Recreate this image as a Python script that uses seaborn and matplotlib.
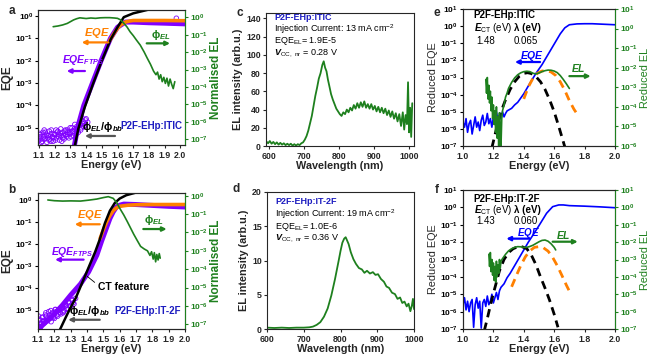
import numpy as np
import seaborn as sns
import matplotlib
matplotlib.use("Agg")
from matplotlib import pyplot as plt
from matplotlib import ticker

# ---------------- panel a : P2F-EHp:ITIC, EQE / EL (log10 values) -------------
a_ftps_pts_E = [1.100, 1.110, 1.120, 1.130, 1.140, 1.150, 1.160, 1.170, 1.180, 1.190, 1.200, 1.210,
                1.220, 1.230, 1.240, 1.250, 1.260, 1.270, 1.280, 1.290, 1.300, 1.310, 1.320, 1.330,
                1.340, 1.350, 1.360, 1.370, 1.380, 1.390, 1.400, 1.410,
                1.105, 1.115, 1.125, 1.135, 1.145, 1.155, 1.165, 1.175, 1.185, 1.195, 1.205, 1.215,
                1.225, 1.235, 1.245, 1.255, 1.265, 1.275, 1.285, 1.295, 1.305, 1.315, 1.325, 1.335,
                1.345, 1.355, 1.365, 1.375, 1.385, 1.395,
                1.102, 1.118, 1.133, 1.148, 1.163, 1.178, 1.193, 1.208, 1.223, 1.238, 1.253, 1.268,
                1.283, 1.298, 1.313, 1.328, 1.343, 1.358, 1.373, 1.388, 1.975]
a_ftps_pts_log = [-5.55, -5.3, -5.6, -5.4, -5.2, -5.65, -5.35, -5.5, -5.25, -5.6, -5.3, -5.45,
                  -5.15, -5.55, -5.35, -5.2, -5.5, -5.3, -5.1, -5.45, -5.25, -5.0, -5.35, -5.1,
                  -4.95, -5.2, -4.85, -5.0, -4.7, -4.9, -4.6, -4.75,
                  -5.4, -5.65, -5.2, -5.5, -5.35, -5.45, -5.15, -5.6, -5.4, -5.3, -5.55, -5.2,
                  -5.4, -5.25, -5.6, -5.35, -5.15, -5.4, -5.3, -5.2, -5.4, -5.15, -5.05, -5.3,
                  -5.05, -4.9, -5.1, -4.8, -4.95, -4.65,
                  -5.25, -5.5, -5.1, -5.3, -5.55, -5.1, -5.45, -5.1, -5.3, -5.05, -5.45, -5.1,
                  -5.2, -5.0, -5.15, -4.85, -5.1, -4.75, -4.55, -4.8, -0.1]
a_ftps_E = [1.325, 1.345, 1.385, 1.44, 1.495, 1.555, 1.60, 1.65, 1.70, 1.80, 1.90, 2.03]
a_ftps_log = [-5.8, -5.0, -4.0, -3.0, -2.0, -1.0, -0.5, -0.27, -0.27, -0.3, -0.32, -0.35]
a_eqe_E = [1.55, 1.58, 1.60, 1.62, 1.65, 1.68, 1.70, 1.80, 1.90, 2.03]
a_eqe_log = [-1.1, -0.75, -0.55, -0.4, -0.27, -0.22, -0.2, -0.2, -0.2, -0.21]
a_bb_E = [1.328, 1.35, 1.39, 1.443, 1.497, 1.556, 1.60, 1.64, 1.70, 1.77, 1.85]
a_bb_log = [-5.8, -5.05, -4.1, -3.05, -2.05, -1.05, -0.5, -0.05, 0.12, 0.24, 0.38]
a_el_E = [1.19, 1.22, 1.25, 1.28, 1.30, 1.32, 1.34, 1.36, 1.38, 1.40, 1.43, 1.46, 1.49, 1.52,
          1.55, 1.58, 1.60, 1.62, 1.64, 1.66, 1.68, 1.70, 1.72, 1.745, 1.77, 1.79, 1.81, 1.83,
          1.845, 1.855, 1.865, 1.875, 1.885, 1.895, 1.905, 1.915, 1.925, 1.935, 1.945, 1.955, 1.965]
a_el_log = [-0.54, -0.5, -0.44, -0.35, -0.25, -0.15, -0.08, -0.03, -0.05, -0.07, -0.04, -0.06,
            -0.03, -0.02, -0.02, -0.04, -0.06, -0.15, -0.34, -0.55, -0.83, -1.05, -1.3, -1.6,
            -2.0, -2.36, -2.7, -3.1, -3.3, -3.15, -3.55, -3.3, -3.7, -3.45, -3.8, -3.5, -3.95,
            -3.55, -3.85, -4.1, -3.7]

# ---------------- panel b : P2F-EHp:IT-2F -------------
b_ftps_pts_E = [1.100, 1.110, 1.120, 1.130, 1.140, 1.150, 1.160, 1.170, 1.180, 1.190, 1.200, 1.210,
                1.220, 1.230, 1.240, 1.250, 1.260, 1.270, 1.280, 1.290, 1.300, 1.310, 1.320, 1.330,
                1.105, 1.115, 1.125, 1.135, 1.145, 1.155, 1.165, 1.175, 1.185, 1.195, 1.205, 1.215,
                1.225, 1.235, 1.245, 1.255, 1.265, 1.275, 1.285, 1.295, 1.305, 1.315,
                1.103, 1.118, 1.133, 1.148, 1.163, 1.178, 1.193, 1.208, 1.223, 1.238, 1.253, 1.268]
b_ftps_pts_log = [-5.7, -5.4, -5.6, -5.3, -5.55, -5.25, -5.45, -5.2, -5.5, -5.1, -5.35, -5.05,
                  -5.25, -4.95, -5.15, -4.85, -5.0, -4.75, -4.95, -4.65, -4.8, -4.55, -4.7, -4.45,
                  -5.45, -5.75, -5.3, -5.5, -5.2, -5.45, -5.05, -5.35, -5.15, -5.3, -4.95, -5.2,
                  -5.0, -5.1, -4.85, -5.05, -4.7, -4.9, -4.6, -4.8, -4.5, -4.65,
                  -5.25, -5.55, -5.45, -5.1, -5.3, -5.0, -5.25, -4.95, -5.15, -4.9, -5.1, -4.8]
b_ftps_E = [1.10, 1.15, 1.20, 1.25, 1.30, 1.36, 1.41, 1.46, 1.49, 1.52, 1.54, 1.56, 1.58, 1.60,
            1.625, 1.70, 1.80, 1.90, 2.00]
b_ftps_log = [-5.85, -5.5, -5.15, -4.75, -4.3, -3.8, -3.25, -2.5, -1.85, -1.25, -0.85, -0.55,
              -0.33, -0.25, -0.2, -0.22, -0.26, -0.3, -0.33]
b_eqe_E = [1.48, 1.50, 1.52, 1.54, 1.56, 1.58, 1.60, 1.65, 1.70, 1.80, 1.90, 2.00]
b_eqe_log = [-1.75, -1.35, -1.0, -0.72, -0.5, -0.37, -0.3, -0.25, -0.23, -0.22, -0.22, -0.22]
b_bb_E = [1.234, 1.27, 1.30, 1.33, 1.37, 1.41, 1.45, 1.48, 1.51, 1.54, 1.57, 1.60, 1.64, 1.70, 1.76]
b_bb_log = [-5.86, -5.3, -4.85, -4.45, -3.75, -3.05, -2.35, -1.75, -1.05, -0.5, -0.15, 0.05, 0.2,
            0.32, 0.42]
b_el_E = [1.16, 1.20, 1.25, 1.30, 1.36, 1.41, 1.46, 1.50, 1.53, 1.56, 1.58, 1.60, 1.625, 1.646,
          1.666, 1.686, 1.708, 1.728, 1.75, 1.77, 1.785, 1.795, 1.805, 1.812, 1.82, 1.827, 1.835,
          1.842, 1.848]
b_el_log = [-0.23, -0.27, -0.29, -0.28, -0.29, -0.24, -0.18, -0.1, -0.05, -0.14, -0.35, -0.68,
            -1.05, -1.4, -1.75, -2.1, -2.45, -2.76, -2.9, -3.0, -3.25, -3.05, -3.45, -3.1, -3.6,
            -3.2, -3.5, -3.15, -3.4]

# ---------------- panel c : EL spectrum P2F-EHp:ITIC -------------
c_wl = [592, 597, 602, 607, 612, 617, 622, 627, 632, 637, 642, 647, 652, 657, 662, 667, 672, 677,
        682, 687, 692, 697, 702, 707, 712, 717, 722, 727, 732, 737, 742, 747, 752, 756, 760, 764,
        768, 772, 777, 782, 787, 792, 797, 802, 807, 812, 817, 822, 827, 832, 837, 842, 847, 852,
        857, 862, 867, 872, 877, 882, 887, 892, 897, 902, 907, 912, 917, 922, 927, 932, 937, 942,
        947, 952, 957, 962, 967, 972, 977, 982, 986, 990, 994, 997, 1000, 1003, 1006, 1009]
c_el = [5, 3, 5.5, 2.5, 4.5, 2, 4, 1.5, 3.5, 1.5, 3, 1, 2.5, 1, 2.5, 0.5, 2, 0.5, 2, 1, 3, 4,
        7, 11, 17, 25, 33, 44, 55, 64, 74, 80, 89, 93, 86, 82, 73, 66, 57, 51, 46, 41, 38, 35,
        33, 37, 35, 40, 37, 42, 39, 45, 41, 47, 42, 48, 43, 49, 42, 46, 41, 46, 40, 44, 38, 43,
        37, 42, 36, 41, 34, 39, 32, 38, 30, 36, 27, 35, 22, 37, 18, 34, 24, 70, 15, 42, 10, 47]

# ---------------- panel d : EL spectrum P2F-EHp:IT-2F -------------
d_wl = [600, 620, 640, 660, 680, 700, 715, 725, 735, 745, 755, 765, 775, 785, 795, 800, 805, 810,
        814, 818, 822, 828, 835, 842, 850, 858, 865, 872, 880, 888, 895, 902, 910, 918, 925, 932,
        940, 948, 955, 962, 968, 974, 980, 985, 990, 994, 997, 1000]
d_el = [0.2, 0.15, 0.2, 0.15, 0.2, 0.2, 0.25, 0.35, 0.6, 1.0, 1.8, 3.0, 4.9, 7.3, 10.0, 11.4,
        12.6, 13.2, 13.4, 12.9, 12.4, 11.2, 10.2, 9.5, 8.9, 8.7, 8.2, 8.5, 8.1, 8.3, 7.9, 8.0,
        7.3, 6.9, 6.2, 6.0, 5.3, 5.1, 4.4, 4.6, 3.8, 4.0, 3.3, 3.7, 2.6, 3.4, 4.4, 2.9]

# ---------------- panel e : reduced EQE / EL, P2F-EHp:ITIC -------------
e_eqe_E = [1.00, 1.01, 1.02, 1.03, 1.04, 1.05, 1.06, 1.07, 1.08, 1.09, 1.10, 1.11, 1.12, 1.13,
           1.14, 1.15, 1.16, 1.17, 1.18, 1.19, 1.20, 1.21, 1.22, 1.23, 1.24, 1.25, 1.26, 1.27,
           1.28, 1.29, 1.30, 1.32, 1.34, 1.36, 1.38, 1.40, 1.44, 1.48, 1.52, 1.56, 1.60, 1.64,
           1.67, 1.70, 1.75, 1.80, 1.85, 1.90, 1.95, 2.00]
e_eqe_log = [-5.6, -5.9, -5.4, -6.2, -5.7, -5.5, -6.3, -5.8, -5.3, -5.9, -5.6, -6.1, -5.5, -5.2,
             -5.8, -5.6, -5.1, -5.7, -5.4, -5.9, -5.3, -5.6, -5.0, -5.5, -5.2, -5.4, -5.0, -5.3,
             -5.1, -4.95, -4.9, -4.8, -4.6, -4.45, -4.2, -3.95, -3.34, -2.76, -2.25, -1.65,
             -1.05, -0.45, -0.1, 0.08, 0.13, 0.14, 0.14, 0.12, 0.1, 0.08]
e_el_fit_E = [1.19, 1.22, 1.25, 1.28, 1.31, 1.34, 1.37, 1.40, 1.425, 1.45, 1.48, 1.51, 1.54,
              1.57, 1.60, 1.63, 1.66, 1.675]
e_el_fit_log = [-7.1, -6.0, -5.0, -4.3, -3.7, -3.25, -2.93, -2.76, -2.72, -2.77, -2.95, -3.25,
                -3.7, -4.3, -5.0, -5.85, -6.75, -7.2]
e_eqe_fit_E = [1.40, 1.43, 1.46, 1.49, 1.52, 1.55, 1.58, 1.61, 1.64, 1.67, 1.70, 1.73, 1.76]
e_eqe_fit_log = [-4.25, -3.55, -3.05, -2.75, -2.62, -2.6, -2.68, -2.88, -3.25, -3.75, -4.35,
                 -4.85, -5.25]
e_el_E = [1.150, 1.155, 1.160, 1.165, 1.170, 1.175, 1.180, 1.185, 1.190, 1.195, 1.200, 1.205,
          1.210, 1.215, 1.220, 1.225, 1.230, 1.235, 1.240, 1.245, 1.250, 1.255, 1.260, 1.270,
          1.280, 1.290, 1.300, 1.320, 1.340, 1.360, 1.380, 1.400, 1.420, 1.440, 1.460, 1.480,
          1.500, 1.520, 1.540, 1.560, 1.580, 1.600, 1.620, 1.640, 1.660, 1.680, 1.700]
e_el_log = [-2.6, -3.3, -2.5, -3.6, -2.9, -3.8, -3.2, -4.2, -3.5, -4.6, -3.9, -4.9, -4.2, -5.3,
            -4.0, -5.6, -4.5, -6.0, -4.3, -5.2, -6.0, -4.6, -4.2, -3.9, -3.5, -3.3, -3.05, -2.75,
            -2.52, -2.36, -2.26, -2.2, -2.18, -2.2, -2.28, -2.32, -2.27, -2.2, -2.15, -2.12,
            -2.13, -2.17, -2.25, -2.4, -2.6, -2.82, -3.06]

# ---------------- panel f : reduced EQE / EL, P2F-EHp:IT-2F -------------
f_eqe_E = [1.00, 1.01, 1.02, 1.03, 1.04, 1.05, 1.06, 1.07, 1.08, 1.09, 1.10, 1.11, 1.12, 1.13,
           1.14, 1.15, 1.16, 1.17, 1.18, 1.19, 1.20, 1.21, 1.22, 1.23, 1.24, 1.25, 1.27, 1.29,
           1.31, 1.33, 1.35, 1.37, 1.40, 1.43, 1.46, 1.50, 1.55, 1.59, 1.63, 1.66, 1.70, 1.80,
           1.90, 2.00]
f_eqe_log = [-5.6, -5.2, -5.9, -5.4, -6.0, -5.5, -5.3, -6.9, -5.6, -5.2, -5.8, -5.4, -6.95, -5.5,
             -5.3, -5.7, -5.1, -5.6, -5.4, -5.0, -5.5, -5.2, -4.9, -5.3, -4.8, -4.6, -4.4, -4.05,
             -3.8, -3.5, -3.2, -2.9, -2.45, -2.0, -1.6, -1.05, -0.34, 0.04, 0.14, 0.14, 0.1,
             0.07, 0.03, -0.02]
f_el_fit_E = [1.14, 1.16, 1.18, 1.20, 1.22, 1.24, 1.27, 1.30, 1.33, 1.36, 1.375, 1.39, 1.42, 1.45,
              1.48, 1.51, 1.54, 1.57, 1.60, 1.625]
f_el_fit_log = [-7.1, -6.4, -5.65, -4.95, -4.3, -3.65, -3.0, -2.6, -2.38, -2.27, -2.26, -2.27,
                -2.38, -2.75, -3.3, -4.0, -4.65, -5.35, -6.15, -6.9]
f_eqe_fit_E = [1.32, 1.35, 1.38, 1.41, 1.44, 1.47, 1.50, 1.53, 1.56, 1.59, 1.62, 1.65, 1.68, 1.71]
f_eqe_fit_log = [-4.57, -3.95, -3.35, -2.85, -2.5, -2.3, -2.26, -2.33, -2.52, -2.88, -3.35, -3.9,
                 -4.47, -5.0]
f_el_E = [1.170, 1.175, 1.180, 1.185, 1.190, 1.195, 1.200, 1.205, 1.210, 1.215, 1.220, 1.225,
          1.230, 1.235, 1.240, 1.245, 1.250, 1.260, 1.280, 1.300, 1.320, 1.340, 1.360, 1.380,
          1.400, 1.420, 1.440, 1.460, 1.480, 1.500, 1.520, 1.540, 1.560, 1.580, 1.600, 1.610]
f_el_log = [-2.7, -3.4, -2.6, -3.7, -3.0, -3.9, -3.2, -4.2, -3.4, -4.3, -3.1, -4.0, -3.3, -3.8,
            -3.0, -3.5, -3.1, -2.95, -2.7, -2.5, -2.38, -2.3, -2.26, -2.27, -2.3, -2.3, -2.25,
            -2.18, -2.08, -1.98, -1.9, -1.88, -1.95, -2.1, -2.3, -2.45]

PURPLE = "#8000ff"
ORANGE = "#ff8000"
GREEN = "#1e801e"
BLUE = "#0000ff"
NAVY = "#1c1cc0"

sns.set_style("ticks")
plt.rcParams["font.family"] = ["Liberation Sans", "DejaVu Sans"]
plt.rcParams["font.weight"] = "bold"
plt.rcParams["axes.labelweight"] = "bold"
plt.rcParams["mathtext.fontset"] = "custom"
plt.rcParams["mathtext.rm"] = "Liberation Sans"
plt.rcParams["mathtext.it"] = "Liberation Sans:italic"
plt.rcParams["mathtext.bf"] = "Liberation Sans:bold"
plt.rcParams["mathtext.default"] = "regular"
plt.rcParams["axes.linewidth"] = 0.8
plt.rcParams["xtick.major.size"] = 2.5
plt.rcParams["ytick.major.size"] = 2.5
plt.rcParams["xtick.major.pad"] = 1.5
plt.rcParams["ytick.major.pad"] = 1.2


def lin(values):
    return 10.0 ** np.asarray(values)


def log_fmt(v, pos):
    return r"$\mathbf{10^{%d}}$" % int(round(np.log10(v)))


def log_axis(ax, lo, hi, color="black"):
    ax.set_yscale("log")
    ax.set_ylim(10.0 ** lo, 10.0 ** hi)
    decades = range(int(np.ceil(lo - 1e-9)), int(np.floor(hi + 1e-9)) + 1)
    ax.yaxis.set_major_locator(ticker.FixedLocator([10.0 ** k for k in decades]))
    ax.yaxis.set_minor_locator(ticker.NullLocator())
    ax.yaxis.set_major_formatter(ticker.FuncFormatter(log_fmt))
    ax.tick_params(axis="y", colors=color, labelsize=6)


def line(ax, x, y, color, lw, **kw):
    sns.lineplot(x=x, y=y, ax=ax, color=color, lw=lw, estimator=None, sort=False, **kw)


def arrow(ax, start, end, color, lw=1.6):
    ax.annotate("", xy=end, xytext=start, xycoords="axes fraction", textcoords="axes fraction",
                arrowprops=dict(arrowstyle="-|>", color=color, lw=lw, mutation_scale=6,
                                shrinkA=0, shrinkB=0))


def label_text(ax, x, y, s, color="black", size=7.5, ha="center", **kw):
    ax.text(x, y, s, color=color, fontsize=size, ha=ha, va="center", transform=ax.transAxes, **kw)


fig = plt.figure(figsize=(6.5, 3.57), dpi=100)


def eqe_panel(rect, xlim, left_lim, right_lim, pts_E, pts_log, ftps_E, ftps_log, eqe_E, eqe_log,
              bb_E, bb_log, el_E, el_log):
    ax = fig.add_axes(rect)
    log_axis(ax, *left_lim)
    sns.scatterplot(x=pts_E, y=lin(pts_log), ax=ax, marker="o", s=11, facecolors="none",
                    edgecolor=PURPLE, linewidth=0.6, zorder=2)
    line(ax, ftps_E, lin(ftps_log), PURPLE, 3.6)
    line(ax, eqe_E, lin(eqe_log), ORANGE, 2.6)
    line(ax, bb_E, lin(bb_log), "black", 1.8)
    ax.set_xlim(*xlim)
    ax.set_xticks(np.round(np.arange(1.1, 2.01, 0.1), 1))
    ax.xaxis.set_major_formatter(ticker.FormatStrFormatter("%.1f"))
    ax.tick_params(axis="x", labelsize=6.3)
    ax.set_xlabel("Energy (eV)", fontsize=7.8, labelpad=0.5)
    ax.set_ylabel("EQE", fontsize=8.5, labelpad=1)
    ax2 = ax.twinx()
    line(ax2, el_E, lin(el_log), GREEN, 1.2)
    log_axis(ax2, *right_lim, color=GREEN)
    ax2.spines["right"].set_color(GREEN)
    ax2.set_ylabel("Normalised EL", fontsize=8.5, color=GREEN, labelpad=1)
    return ax


ax_a = eqe_panel([0.0589, 0.5938, 0.2257, 0.3782], (1.095, 2.03), (-5.77, 0.27), (-7.34, 0.42),
                 a_ftps_pts_E, a_ftps_pts_log, a_ftps_E, a_ftps_log, a_eqe_E, a_eqe_log,
                 a_bb_E, a_bb_log, a_el_E, a_el_log)
label_text(ax_a, 0.40, 0.83, r"$\mathit{EQE}$", ORANGE, 8)
arrow(ax_a, (0.477, 0.76), (0.296, 0.76), ORANGE)
label_text(ax_a, 0.165, 0.63, r"$\mathit{EQE_{FTPS}}$", PURPLE, 7.5, ha="left")
arrow(ax_a, (0.318, 0.548), (0.194, 0.548), PURPLE)
label_text(ax_a, 0.836, 0.815, r"$\phi_{\mathit{EL}}$", GREEN, 8)
arrow(ax_a, (0.739, 0.753), (0.898, 0.753), GREEN)
label_text(ax_a, 0.437, 0.136, r"$\phi_{\mathit{EL}}/\phi_{\mathit{bb}}$", "black", 8)
arrow(ax_a, (0.523, 0.067), (0.318, 0.067), "#555555")
label_text(ax_a, 0.768, 0.143, "P2F-EHp:ITIC", NAVY, 7)

ax_b = eqe_panel([0.0585, 0.0784, 0.2262, 0.381], (1.1, 2.0), (-5.83, 0.3), (-7.26, 0.15),
                 b_ftps_pts_E, b_ftps_pts_log, b_ftps_E, b_ftps_log, b_eqe_E, b_eqe_log,
                 b_bb_E, b_bb_log, b_el_E, b_el_log)
label_text(ax_b, 0.35, 0.84, r"$\mathit{EQE}$", ORANGE, 8)
arrow(ax_b, (0.42, 0.77), (0.25, 0.77), ORANGE)
label_text(ax_b, 0.085, 0.565, r"$\mathit{EQE_{FTPS}}$", PURPLE, 7.5, ha="left")
arrow(ax_b, (0.31, 0.51), (0.116, 0.51), PURPLE)
label_text(ax_b, 0.79, 0.80, r"$\phi_{\mathit{EL}}$", GREEN, 8)
arrow(ax_b, (0.716, 0.735), (0.875, 0.735), GREEN)
label_text(ax_b, 0.41, 0.31, "CT feature", "black", 7.5, ha="left")
ax_b.annotate("", xy=(0.32, 0.40), xytext=(0.40, 0.33), xycoords="axes fraction",
              textcoords="axes fraction", arrowprops=dict(arrowstyle="-", color="black", lw=0.6))
label_text(ax_b, 0.35, 0.134, r"$\phi_{\mathit{EL}}/\phi_{\mathit{bb}}$", "black", 8)
arrow(ax_b, (0.42, 0.068), (0.205, 0.068), "#555555")
label_text(ax_b, 0.745, 0.134, "P2F-EHp:IT-2F", NAVY, 7)


def spectrum_panel(rect, wl, el, xlim, ylim, yticks, lines):
    ax = fig.add_axes(rect)
    line(ax, wl, el, GREEN, 1.3)
    ax.set_xlim(*xlim)
    ax.set_ylim(*ylim)
    ax.set_xticks([600, 700, 800, 900, 1000] if xlim[0] <= 600 else [700, 800, 900, 1000])
    ax.set_yticks(yticks)
    ax.tick_params(labelsize=6.3)
    ax.set_xlabel("Wavelength (nm)", fontsize=7.8, labelpad=0.5)
    ax.set_ylabel("EL intensity (arb.u.)", fontsize=7.8, labelpad=2)
    for y, s, kw in lines:
        label_text(ax, 0.056, y, s, size=6.5, ha="left", **kw)
    return ax


spectrum_panel([0.4092, 0.591, 0.2277, 0.3725], c_wl, c_el, (591, 1014), (0, 146),
               range(0, 141, 20),
               [(0.963, "P2F-EHp:ITIC", dict(color=NAVY)),
                (0.877, r"Injection Current: 13 mA cm$^{-2}$", dict(fontweight="normal")),
                (0.786, r"EQE$_{EL}$= 1.9E-5", dict(fontweight="normal")),
                (0.697, r"$\mathit{V}_{OC,\ nr}$ = 0.28 V", dict(fontweight="normal"))])
spectrum_panel([0.4108, 0.0784, 0.2262, 0.3838], d_wl, d_el, (600, 1000), (0, 20),
               range(0, 21, 5),
               [(0.93, "P2F-EHp:IT-2F", dict(color=NAVY)),
                (0.84, r"Injection Current: 19 mA cm$^{-2}$", dict(fontweight="normal")),
                (0.745, r"EQE$_{EL}$= 1.0E-6", dict(fontweight="normal")),
                (0.66, r"$\mathit{V}_{OC,\ nr}$ = 0.36 V", dict(fontweight="normal"))])


def reduced_panel(rect, right_lo, eqe_E, eqe_log, el_fit_E, el_fit_log, eqe_fit_E, eqe_fit_log,
                  el_E, el_log, name, ect, lam, ys):
    ax = fig.add_axes(rect)
    log_axis(ax, -7, 1)
    line(ax, eqe_E, lin(eqe_log), BLUE, 1.2)
    line(ax, eqe_fit_E, lin(eqe_fit_log), ORANGE, 2.0, linestyle=(0, (3, 2)))
    line(ax, el_fit_E, lin(el_fit_log), "black", 2.0, linestyle=(0, (3, 2)))
    ax.set_xlim(1.0, 2.0)
    ax.set_xticks(np.round(np.arange(1.0, 2.01, 0.2), 1))
    ax.xaxis.set_major_formatter(ticker.FormatStrFormatter("%.1f"))
    ax.tick_params(axis="x", labelsize=6.3)
    ax.set_xlabel("Energy (eV)", fontsize=7.8, labelpad=0.5)
    ax.set_ylabel("Reduced EQE", fontsize=7.8, fontweight="normal", labelpad=1)
    ax2 = ax.twinx()
    line(ax2, el_E, lin(el_log), GREEN, 1.2)
    log_axis(ax2, right_lo, 1, color=GREEN)
    ax2.spines["right"].set_color(GREEN)
    ax2.set_ylabel("Reduced EL", fontsize=7.8, fontweight="normal", color=GREEN, labelpad=1)
    label_text(ax, 0.07, ys[0], name, size=7, ha="left")
    label_text(ax, 0.07, ys[1], r"$\mathit{E}_{CT}$ (eV)", size=7, ha="left",
               fontweight="normal")
    label_text(ax, 0.335, ys[1], "λ (eV)", size=7, ha="left")
    label_text(ax, 0.09, ys[2], ect, size=7, ha="left", fontweight="normal")
    label_text(ax, 0.335, ys[2], lam, size=7, ha="left", fontweight="normal")
    return ax


ax_e = reduced_panel([0.7123, 0.591, 0.2338, 0.3838], -6, e_eqe_E, e_eqe_log, e_el_fit_E,
                     e_el_fit_log, e_eqe_fit_E, e_eqe_fit_log, e_el_E, e_el_log,
                     "P2F-EHp:ITIC", "1.48", "0.065", (0.955, 0.86, 0.765))
label_text(ax_e, 0.454, 0.655, r"$\mathit{EQE}$", BLUE, 7.5, fontweight="normal")
arrow(ax_e, (0.507, 0.613), (0.342, 0.613), BLUE)
label_text(ax_e, 0.757, 0.57, r"$\mathit{EL}$", GREEN, 7.5, fontweight="normal")
arrow(ax_e, (0.70, 0.51), (0.84, 0.51), GREEN)

ax_f = reduced_panel([0.7123, 0.0784, 0.2338, 0.3894], -7, f_eqe_E, f_eqe_log, f_el_fit_E,
                     f_el_fit_log, f_eqe_fit_E, f_eqe_fit_log, f_el_E, f_el_log,
                     "P2F-EHp:IT-2F", "1.43", "0.060", (0.935, 0.855, 0.775))
label_text(ax_f, 0.43, 0.69, r"$\mathit{EQE}$", BLUE, 7, fontweight="normal")
arrow(ax_f, (0.44, 0.65), (0.285, 0.65), BLUE)
label_text(ax_f, 0.66, 0.676, r"$\mathit{EL}$", GREEN, 7.5, fontweight="normal")
arrow(ax_f, (0.59, 0.628), (0.755, 0.628), GREEN)

for s, x, y in [("a", 12, 11), ("b", 12, 190), ("c", 240, 13), ("d", 236, 189),
                ("e", 437, 13), ("f", 437, 190)]:
    fig.text(x / 650, 1 - y / 357, s, fontsize=8.5, fontweight="bold", ha="center", va="center")

fig.savefig("out.png", dpi=100)
